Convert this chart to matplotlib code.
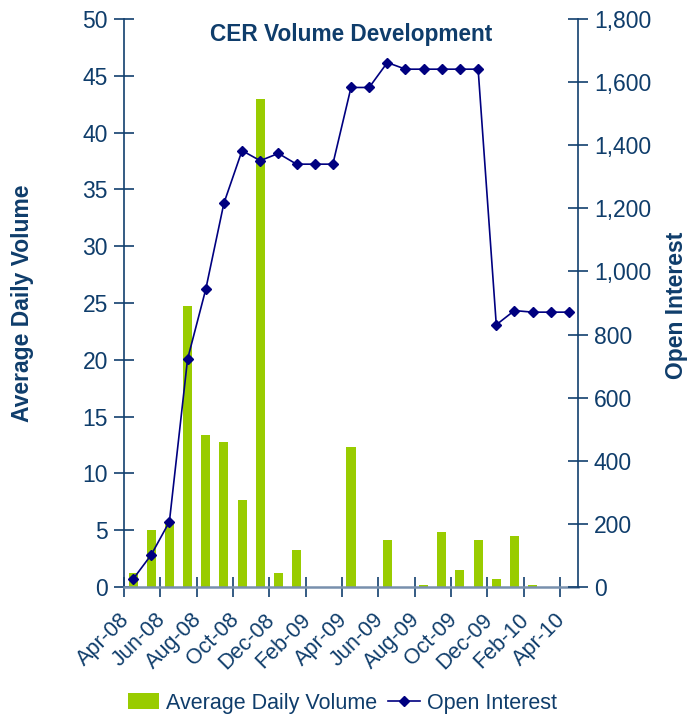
import matplotlib
matplotlib.use("Agg")
import matplotlib.pyplot as plt
import matplotlib.transforms as mtransforms
import numpy as np

plt.rcParams['font.family'] = ['Liberation Sans', 'DejaVu Sans']

months = ["Apr-08", "May-08", "Jun-08", "Jul-08", "Aug-08", "Sep-08", "Oct-08", "Nov-08",
          "Dec-08", "Jan-09", "Feb-09", "Mar-09", "Apr-09", "May-09", "Jun-09", "Jul-09",
          "Aug-09", "Sep-09", "Oct-09", "Nov-09", "Dec-09", "Jan-10", "Feb-10", "Mar-10",
          "Apr-10"]
avg_daily_volume = [1.2, 5.0, 5.6, 24.7, 13.4, 12.8, 7.7, 43.0, 1.2, 3.3, 0, 0, 12.3, 0,
                    4.1, 0, 0.2, 4.8, 1.5, 4.1, 0.7, 4.5, 0.2, 0, 0]
open_interest = [25, 102, 207, 722, 943, 1216, 1383, 1351, 1374, 1340, 1340, 1340, 1583,
                 1583, 1662, 1641, 1641, 1641, 1641, 1641, 831, 876, 871, 871, 871]

TXT = '#0f3d6b'
SPINE = '#123f6e'
AXLINE = '#7890ad'
GREEN = '#99cc00'
NAVY = '#000080'

fig = plt.figure(figsize=(6.89, 7.19), dpi=100)
ax = fig.add_axes([124/689, 1-587/719, (578-124)/689, (587-19)/719])
ax2 = ax.twinx()

x = np.arange(len(months))
bars = ax.bar(x, avg_daily_volume, width=0.5, color=GREEN, label='Average Daily Volume', zorder=2)
line, = ax2.plot(x, open_interest, color=NAVY, lw=1.2, marker='D', markersize=5.5,
                 label='Open Interest', zorder=3)

ax.set_xlim(-0.5, len(months) - 0.5)
ax.set_ylim(0, 50)
ax2.set_ylim(0, 1800)

ax.set_yticks(np.arange(0, 51, 5))
ax2.set_yticks(np.arange(0, 1801, 200))
ax2.set_yticklabels([f"{v:,}" for v in range(0, 1801, 200)])

# x ticks: major marks at category boundaries, labels every 2 categories
ax.set_xticks(np.arange(-0.5, len(months) - 0.5, 2))
ax.set_xticklabels([])
ax.set_xticks(x[::2], minor=True)
ax.set_xticklabels(months[::2], minor=True, rotation=45, ha='right', va='top',
                   rotation_mode='anchor', fontsize=15.5, color=TXT)
ax.tick_params(axis='x', which='minor', length=0, pad=16)
ax.tick_params(axis='x', which='major', direction='inout', length=14, width=1.2, color=SPINE)
offset = mtransforms.ScaledTranslation(-0.14, 0, fig.dpi_scale_trans)
for lab in ax.get_xticklabels(minor=True):
    lab.set_transform(lab.get_transform() + offset)

for a in (ax, ax2):
    a.spines['top'].set_visible(False)
ax.spines['right'].set_visible(False)
ax2.spines['left'].set_visible(False)
ax2.spines['bottom'].set_visible(False)
ax.spines['left'].set_color(SPINE)
ax.spines['left'].set_linewidth(1.2)
ax2.spines['right'].set_color(SPINE)
ax2.spines['right'].set_linewidth(1.2)
ax.spines['bottom'].set_color(AXLINE)
ax.spines['bottom'].set_linewidth(1.8)

ax.tick_params(axis='y', direction='inout', length=15, width=1.2, color=SPINE,
               labelsize=16.5, labelcolor=TXT, pad=4)
ax2.tick_params(axis='y', direction='inout', length=15, width=1.2, color=SPINE,
                labelsize=16.5, labelcolor=TXT, pad=4)

ax.set_ylabel('Average Daily Volume', fontsize=16.5, fontweight='bold', color=TXT)
ax2.set_ylabel('Open Interest', fontsize=16.5, fontweight='bold', color=TXT)
ax.yaxis.set_label_coords((34 - 124) / (578 - 124), (587 - 303) / (587 - 19))
ax2.yaxis.set_label_coords((665 - 124) / (578 - 124), (587 - 305) / (587 - 19))

ax.text(0.5, (587 - 23) / (587 - 19), 'CER Volume Development', transform=ax.transAxes,
        ha='center', va='top', fontsize=16.3, fontweight='bold', color=TXT)

fig.legend([bars, line], ['Average Daily Volume', 'Open Interest'], loc='center',
           bbox_to_anchor=(0.497, 1 - 703/719), ncol=2, frameon=False, fontsize=15.5,
           handlelength=1.45, handleheight=0.75, handletextpad=0.35, columnspacing=0.5,
           labelcolor=TXT)

fig.savefig('out.png', dpi=100)
